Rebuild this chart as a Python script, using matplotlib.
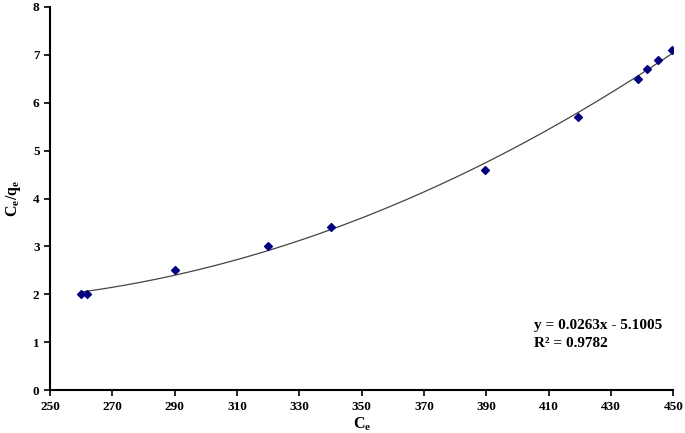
import numpy as np
import matplotlib
matplotlib.use("Agg")
import matplotlib.pyplot as plt

plt.rcParams['font.family'] = ['Liberation Serif', 'DejaVu Serif']
plt.rcParams['mathtext.fontset'] = 'custom'
plt.rcParams['mathtext.rm'] = 'Liberation Serif'
plt.rcParams['mathtext.bf'] = 'Liberation Serif:bold'
plt.rcParams['mathtext.it'] = 'Liberation Serif:italic'

ce = [260, 262, 290, 320, 340, 389.5, 419.5, 438.5, 441.5, 445, 449.5]
ce_qe = [2.0, 2.0, 2.5, 3.0, 3.4, 4.6, 5.7, 6.5, 6.7, 6.9, 7.1]
xticks = list(range(250, 451, 20))
yticks = list(range(0, 9))
eq_text = "y = 0.0263x - 5.1005\nR² = 0.9782"

fig = plt.figure(figsize=(6.85, 4.33), dpi=100)
ax = fig.add_axes([0.073, 0.099, 0.910, 0.885])

coef = np.polyfit(ce, ce_qe, 2)
xs = np.linspace(min(ce), max(ce), 200)
ax.plot(xs, np.polyval(coef, xs), color='#444444', lw=0.9, zorder=2)
ax.scatter(ce, ce_qe, marker='D', s=16, color='#000080', zorder=3)

ax.set_xlim(250, 450)
ax.set_ylim(0, 8)
ax.set_xticks(xticks)
ax.set_yticks(yticks)
for s in ['top', 'right']:
    ax.spines[s].set_visible(False)
for s in ['left', 'bottom']:
    ax.spines[s].set_linewidth(1.5)
ax.tick_params(direction='out', length=4, width=1.2, labelsize=9.5)
for lab in ax.get_xticklabels() + ax.get_yticklabels():
    lab.set_fontweight('bold')

ax.set_xlabel(r'$\mathbf{C_e}$', fontsize=11.5, labelpad=2)
ax.set_ylabel(r'$\mathbf{C_e/q_e}$', fontsize=11.5, labelpad=7)

ax.text(405.3, 1.48, eq_text, fontsize=11, fontweight='bold', va='top', ha='left', linespacing=1.45)

fig.savefig('out.png', dpi=100)
